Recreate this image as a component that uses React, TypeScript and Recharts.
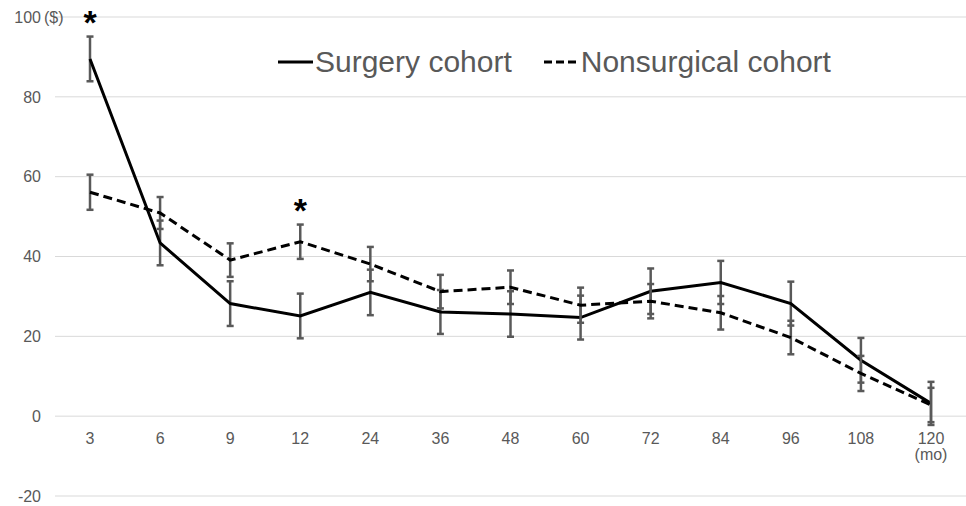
import {
  CartesianGrid,
  ErrorBar,
  Legend,
  Line,
  LineChart,
  ReferenceDot,
  XAxis,
  YAxis,
} from "recharts";

const months = ["3", "6", "9", "12", "24", "36", "48", "60", "72", "84", "96", "108", "120"];
const surgery = [89.5, 43.4, 28.2, 25.1, 31.0, 26.1, 25.6, 24.7, 31.3, 33.5, 28.2, 14.0, 3.2];
const surgeryErr = [5.6, 5.6, 5.6, 5.6, 5.7, 5.5, 5.7, 5.5, 5.7, 5.4, 5.5, 5.6, 5.4];
const nonsurgical = [56.1, 50.9, 39.1, 43.7, 38.1, 31.2, 32.3, 27.8, 28.8, 25.9, 19.7, 10.7, 2.8];
const nonsurgicalErr = [4.4, 4.0, 4.2, 4.3, 4.3, 4.2, 4.2, 4.4, 4.3, 4.2, 4.2, 4.4, 4.3];
const seriesNames = ["Surgery cohort", "Nonsurgical cohort"];
const yTicks = [-20, 0, 20, 40, 60, 80, 100];
const yUnit = "($)";
const xUnit = "(mo)";
const starMonths = ["3", "12"];
const starValues = [100.6, 53.4];

const data = months.map((m, i) => ({
  month: m,
  surgery: surgery[i],
  surgeryErr: surgeryErr[i],
  nonsurgical: nonsurgical[i],
  nonsurgicalErr: nonsurgicalErr[i],
}));

const W = 966;
const H = 506;
const TOP = 17;
const X_AXIS_H = 10;
const PLOT_H = H - TOP - X_AXIS_H;
const Y_MIN = -20;
const Y_MAX = 100;
// distance from the bottom of the plot up to the 0 line
const ZERO_SHIFT = (PLOT_H * (0 - Y_MIN)) / (Y_MAX - Y_MIN);

const FONT = '"Liberation Sans", Arial, sans-serif';
const GRAY = "#595959";

function YTick(props: any) {
  const { x, y, payload } = props;
  const isTop = payload.value === Y_MAX;
  return (
    <g>
      <text x={x - 14} y={y} dy="0.36em" textAnchor="end" fontSize={16} fill={GRAY} fontFamily={FONT}>
        {payload.value}
      </text>
      {isTop && (
        <text x={x - 11} y={y} dy="0.36em" textAnchor="start" fontSize={16} fill={GRAY} fontFamily={FONT}>
          {yUnit}
        </text>
      )}
    </g>
  );
}

function XTick(props: any) {
  const { x, y, payload, index } = props;
  const base = y - ZERO_SHIFT + 28;
  return (
    <g>
      <text x={x} y={base} textAnchor="middle" fontSize={16} fill={GRAY} fontFamily={FONT}>
        {payload.value}
      </text>
      {index === months.length - 1 && (
        <text x={x} y={base + 16} textAnchor="middle" fontSize={16} fill={GRAY} fontFamily={FONT}>
          {xUnit}
        </text>
      )}
    </g>
  );
}

function Star(props: any) {
  return (
    <text x={props.cx} y={props.cy} dy="0.57em" textAnchor="middle" fontSize={34} fontWeight="bold" fill="#000" fontFamily={FONT}>
      *
    </text>
  );
}

function LegendContent(props: any) {
  const items = [...(props.payload || [])].sort(
    (a: any, b: any) => seriesNames.indexOf(a.value) - seriesNames.indexOf(b.value)
  );
  return (
    <div style={{ display: "flex", alignItems: "center", paddingLeft: 278, fontFamily: FONT }}>
      {items.map((it: any, i: number) => (
        <div key={i} style={{ display: "flex", alignItems: "center", marginLeft: i === 0 ? 0 : 32 }}>
          <svg width={35} height={6}>
            <line
              x1={0}
              y1={3}
              x2={35}
              y2={3}
              stroke="#000"
              strokeWidth={3}
              strokeDasharray={it.payload?.strokeDasharray ? "8 4" : undefined}
            />
          </svg>
          <span style={{ fontSize: 30, lineHeight: "30px", color: GRAY, marginLeft: 2 }}>{it.value}</span>
        </div>
      ))}
    </div>
  );
}

export default function App() {
  return (
    <div style={{ position: "absolute", left: 0, top: 0, width: W, height: H, background: "#fff" }}>
      <LineChart width={W} height={H} data={data} margin={{ top: TOP, right: 0, bottom: 0, left: 0 }}>
        <CartesianGrid vertical={false} stroke="#d9d9d9" />
        <XAxis
          dataKey="month"
          interval={0}
          height={X_AXIS_H}
          padding={{ left: 35, right: 35 }}
          axisLine={false}
          tickLine={false}
          tickSize={0}
          tickMargin={0}
          tick={<XTick />}
        />
        <YAxis
          width={55}
          domain={[Y_MIN, Y_MAX]}
          ticks={yTicks}
          axisLine={false}
          tickLine={false}
          tickSize={0}
          tickMargin={0}
          tick={<YTick />}
        />
        <Legend
          layout="horizontal"
          verticalAlign="middle"
          align="center"
          wrapperStyle={{ top: 47, left: 0, width: W }}
          content={<LegendContent />}
        />
        <Line
          type="linear"
          dataKey="surgery"
          name={seriesNames[0]}
          stroke="#000"
          strokeWidth={3}
          dot={false}
          isAnimationActive={false}
        >
          <ErrorBar dataKey="surgeryErr" direction="y" width={3.5} stroke={GRAY} strokeWidth={2.5} />
        </Line>
        <Line
          type="linear"
          dataKey="nonsurgical"
          name={seriesNames[1]}
          stroke="#000"
          strokeWidth={3}
          strokeDasharray="9 5"
          dot={false}
          isAnimationActive={false}
        >
          <ErrorBar dataKey="nonsurgicalErr" direction="y" width={3.5} stroke={GRAY} strokeWidth={2.5} />
        </Line>
        {starMonths.map((m, i) => (
          <ReferenceDot key={m} x={m} y={starValues[i]} r={1} ifOverflow="visible" shape={<Star />} />
        ))}
      </LineChart>
    </div>
  );
}
